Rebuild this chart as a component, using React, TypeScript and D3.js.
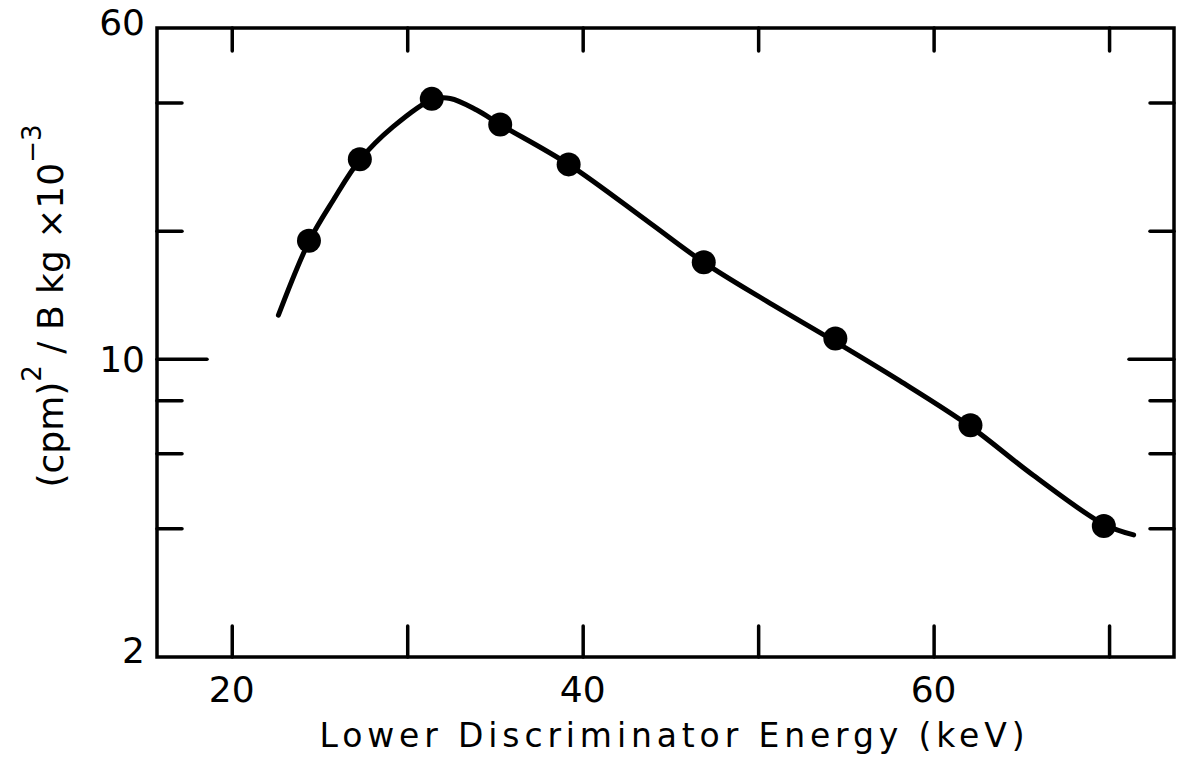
import * as d3 from "d3";
import { useEffect, useRef } from "react";

// measured points
const energy = [24.4, 27.3, 31.4, 35.3, 39.2, 46.9, 54.4, 62.1, 69.7];
const ratio = [19.0, 29.5, 40.9, 35.6, 28.7, 16.9, 11.2, 7.0, 4.06];

// hand drawn curve
const curveEnergy = [22.66, 24.4, 25.8, 27.3, 29.2, 31.4, 32.45, 33.96, 35.3, 39.2, 43.83, 46.9, 50.48, 54.4, 58.08, 62.1, 65.66, 69.7, 71.4];
const curveRatio = [12.7, 18.9, 23.7, 29.4, 35.2, 40.7, 41.0, 38.5, 35.6, 28.7, 20.9, 16.9, 13.7, 11.0, 8.9, 6.95, 5.35, 4.1, 3.87];

const xTicks = [20, 30, 40, 50, 60, 70];
const xLabels = [20, 40, 60];
const yTicks = [4, 6, 8, 10, 20, 40];
const yLabels = [2, 10, 60];

const App = () => {
    const chartRef = useRef<SVGSVGElement | null>(null);

    const width = 1179;
    const height = 767;
    const margin = { top: 28, right: 5, bottom: 110, left: 157 };
    const innerW = width - margin.left - margin.right;
    const innerH = height - margin.top - margin.bottom;
    const font = "'DejaVu Sans', sans-serif";

    useEffect(() => {
        document.body.style.margin = "0";

        const svg = d3.select(chartRef.current);
        svg.selectAll("*").remove();
        svg.attr("width", width).attr("height", height);

        const x = d3.scaleLinear().domain([15.74, 73.7]).range([0, innerW]);
        const y = d3.scaleLog().domain([2, 60]).range([innerH, 0]);

        const g = svg.append("g").attr("transform", `translate(${margin.left},${margin.top})`);

        // frame
        g.append("rect")
            .attr("width", innerW)
            .attr("height", innerH)
            .style("fill", "none")
            .style("stroke", "#000")
            .style("stroke-width", 3.5);

        const tickStyle = (sel) => {
            sel.select(".domain").remove();
            sel.selectAll("line").style("stroke", "#000").style("stroke-width", 3.5).style("stroke-linecap", "round");
            sel.selectAll("text").remove();
        };

        // x ticks, inward
        g.append("g")
            .attr("transform", `translate(0,${innerH})`)
            .call(d3.axisBottom(x).tickValues(xTicks).tickSize(-31))
            .call(tickStyle);
        g.append("g")
            .call(d3.axisTop(x).tickValues(xTicks).tickSize(-23))
            .call(tickStyle);

        // y ticks, inward, 10 is longer
        g.selectAll(".ytl")
            .data(yTicks)
            .enter()
            .append("line")
            .attr("x1", 0)
            .attr("x2", d => (d === 10 ? 50 : 25))
            .attr("y1", d => y(d))
            .attr("y2", d => y(d))
            .style("stroke", "#000")
            .style("stroke-width", 3.5)
            .style("stroke-linecap", "round");
        g.selectAll(".ytr")
            .data(yTicks)
            .enter()
            .append("line")
            .attr("x1", innerW)
            .attr("x2", d => innerW - (d === 10 ? 45 : 24))
            .attr("y1", d => y(d))
            .attr("y2", d => y(d))
            .style("stroke", "#000")
            .style("stroke-width", 3.5)
            .style("stroke-linecap", "round");

        // tick labels
        g.selectAll(".xl")
            .data(xLabels)
            .enter()
            .append("text")
            .attr("x", d => x(d))
            .attr("y", innerH + 45)
            .attr("text-anchor", "middle")
            .style("font-family", font)
            .style("font-size", "36px")
            .text(d => d);

        g.selectAll(".yl")
            .data(yLabels)
            .enter()
            .append("text")
            .attr("x", -12)
            .attr("y", d => y(d) + (d === 60 ? -6 : d === 2 ? -7 : 0))
            .attr("dy", "0.36em")
            .attr("text-anchor", "end")
            .style("font-family", font)
            .style("font-size", "36px")
            .text(d => d);

        // fitted curve
        const line = d3.line()
            .x(d => x(d[0]))
            .y(d => y(d[1]))
            .curve(d3.curveCatmullRom.alpha(0.5));
        g.append("path")
            .datum(curveEnergy.map((e, i) => [e, curveRatio[i]]))
            .attr("d", line)
            .style("fill", "none")
            .style("stroke", "#000")
            .style("stroke-width", 5)
            .style("stroke-linecap", "round");

        // points
        g.selectAll(".dot")
            .data(energy.map((e, i) => [e, ratio[i]]))
            .enter()
            .append("circle")
            .attr("cx", d => x(d[0]))
            .attr("cy", d => y(d[1]))
            .attr("r", 12)
            .style("fill", "#000");

        // x title
        svg.append("text")
            .attr("x", 672)
            .attr("y", 747)
            .attr("text-anchor", "middle")
            .attr("textLength", 705)
            .attr("lengthAdjust", "spacing")
            .style("font-family", font)
            .style("font-size", "33px")
            .text("Lower Discriminator Energy (keV)");

        // y title
        const yt = svg.append("text")
            .attr("transform", "translate(63,306) rotate(-90)")
            .attr("text-anchor", "middle")
            .style("font-family", font)
            .style("font-size", "36px");
        yt.append("tspan").text("(cpm)");
        yt.append("tspan").attr("dy", -22).style("font-size", "26px").text("2");
        yt.append("tspan").attr("dy", 22).text(" / B kg ×10");
        yt.append("tspan").attr("dy", -22).style("font-size", "26px").text("−3");
    }, []);

    return <svg ref={chartRef} style={{ display: "block" }}></svg>;
};

export default App;
